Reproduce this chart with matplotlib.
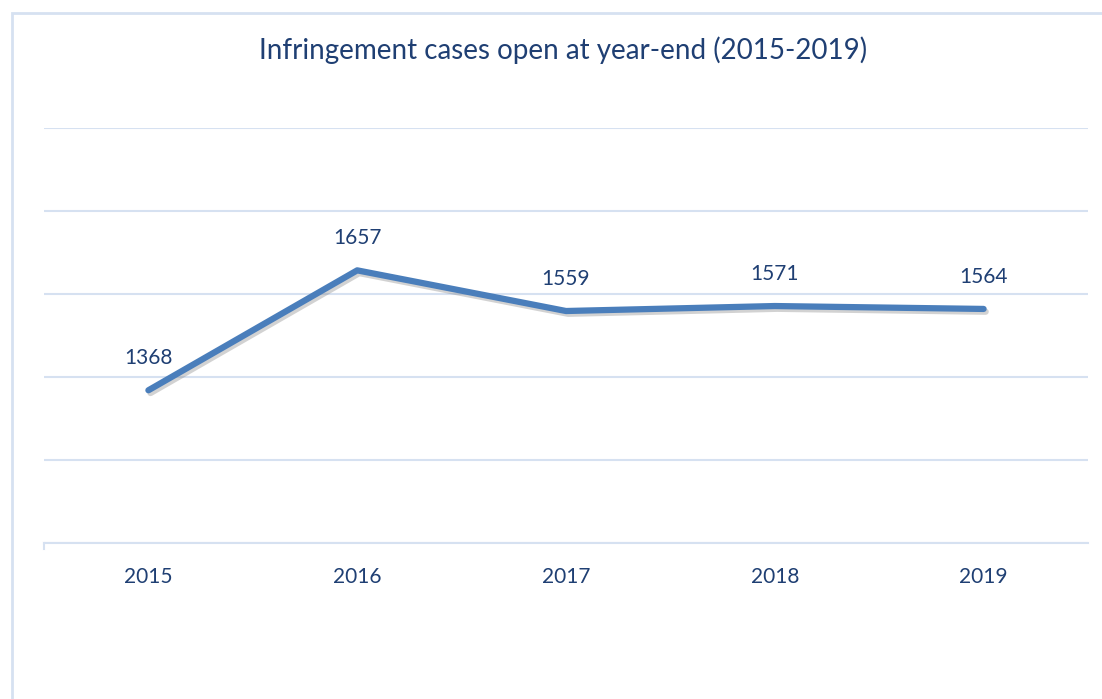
import matplotlib.pyplot as plt
import matplotlib.patheffects as pe
from matplotlib.patches import Rectangle

plt.rcParams['font.family'] = ['Lato', 'DejaVu Sans']

years = ['2015', '2016', '2017', '2018', '2019']
cases = [1368, 1657, 1559, 1571, 1564]

text_col = '#1F3F73'
grid_col = '#D6E1F1'
line_col = '#4A7EBB'

fig = plt.figure(figsize=(11.02, 6.99), dpi=100)
W, H = 1102, 699
ax = fig.add_axes([44 / W, (H - 543) / H, (1088 - 44) / W, (543 - 128) / H])

x = list(range(len(years)))
ax.plot(x, cases, color=line_col, lw=4.5, solid_capstyle='round',
        path_effects=[pe.SimpleLineShadow(offset=(1.5, -2), shadow_color='gray', alpha=0.35),
                      pe.Normal()], zorder=3)
for xi, v in zip(x, cases):
    ax.annotate(str(v), (xi, v), xytext=(0, 16), textcoords='offset points',
                ha='center', va='bottom', fontsize=15, color=text_col)

ax.set_xlim(-0.5, 4.5)
ax.set_ylim(1000, 2000)
ax.set_yticks(range(1000, 2001, 200))
ax.set_xticks(x)
ax.set_xticklabels(years, fontsize=15, color=text_col)
ax.tick_params(axis='y', left=False, labelleft=False)
ax.tick_params(axis='x', length=0, pad=17)
ax.grid(axis='y', color=grid_col, lw=1.5)
for s in ['top', 'right', 'left']:
    ax.spines[s].set_visible(False)
ax.spines['bottom'].set_color(grid_col)
ax.spines['bottom'].set_linewidth(1.5)
# small tick at left end of axis
ax.plot([-0.5, -0.5], [1000, 985], color=grid_col, lw=1.5, clip_on=False)

fig.text(563 / W, 1 - 50 / H, 'Infringement cases open at year-end (2015-2019)',
         ha='center', va='center', fontsize=20, color=text_col)

# chart frame (left and top edges visible)
fig.patches.append(Rectangle((12 / W, -0.1), 1.2, 1 - 13 / H + 0.1, transform=fig.transFigure,
                             fill=False, edgecolor=grid_col, lw=2))

fig.savefig('out.png', dpi=100)
